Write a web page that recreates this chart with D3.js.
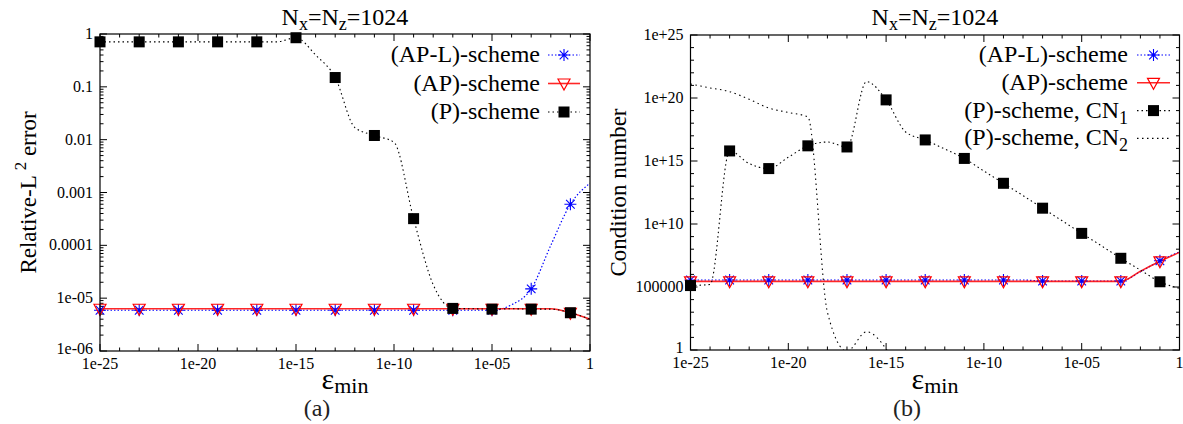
<!DOCTYPE html>
<html><head><meta charset="utf-8">
<script src="https://cdn.jsdelivr.net/npm/d3@7"></script>
<style>body{margin:0;background:#fff}svg{display:block}svg text{font-family:'Liberation Serif','DejaVu Serif',serif}</style>
</head><body><svg id="c" width="1183" height="424"></svg>
<script>
// ---------- data ----------
const eps = [1e-25,1e-24,1e-23,1e-22,1e-21,1e-20,1e-19,1e-18,1e-17,1e-16,1e-15,1e-14,1e-13,
             1e-12,1e-11,1e-10,1e-9,1e-8,1e-7,1e-6,1e-5,1e-4,1e-3,1e-2,1e-1,1];
// panel (a): relative L2 error
const errAPL = [5.9e-6,5.9e-6,5.9e-6,5.9e-6,5.9e-6,5.9e-6,5.9e-6,5.9e-6,5.9e-6,5.9e-6,5.9e-6,5.9e-6,5.9e-6,
                5.9e-6,5.9e-6,5.9e-6,5.9e-6,5.9e-6,5.9e-6,5.9e-6,5.9e-6,7.5e-6,1.5e-5,1.0e-4,6.0e-4,1.5e-3];
const errAP  = [6.3e-6,6.3e-6,6.3e-6,6.3e-6,6.3e-6,6.3e-6,6.3e-6,6.3e-6,6.3e-6,6.3e-6,6.3e-6,6.3e-6,6.3e-6,
                6.3e-6,6.3e-6,6.3e-6,6.3e-6,6.3e-6,6.3e-6,6.3e-6,6.3e-6,6.3e-6,6.3e-6,6.3e-6,5.3e-6,4.0e-6];
const errP   = [0.71,0.71,0.71,0.71,0.71,0.71,0.71,0.71,0.71,0.71,0.85,0.40,0.15,
                0.017,0.012,0.0089,3.2e-4,1.8e-5,6.4e-6,6.3e-6,6.2e-6,6.3e-6,6.2e-6,6.2e-6,5.3e-6,4.0e-6];
// panel (b): condition numbers
const cnAPL  = [3.6e5,3.6e5,3.6e5,3.6e5,3.6e5,3.6e5,3.6e5,3.6e5,3.6e5,3.6e5,3.6e5,3.6e5,3.6e5,
                3.6e5,3.6e5,3.6e5,3.6e5,3.6e5,3.0e5,3.0e5,3.0e5,3.0e5,3.0e5,1.6e6,1.2e7,6.3e7];
const cnAP   = [2.8e5,2.8e5,2.8e5,2.8e5,2.8e5,2.8e5,2.8e5,2.8e5,2.8e5,2.8e5,2.8e5,2.8e5,2.8e5,
                2.8e5,2.8e5,2.8e5,2.8e5,2.8e5,2.8e5,2.8e5,2.8e5,2.8e5,2.8e5,1.8e6,1.1e7,5.6e7];
const cn1P   = [1.3e5,1.6e5,6.3e15,6.3e14,2.5e14,2.0e15,1.6e16,3.2e16,1.3e16,2.0e21,7.1e19,2.0e17,4.7e16,
                8.9e15,1.6e15,1.6e14,1.7e13,1.8e12,1.8e11,1.8e10,1.8e9,1.9e8,1.9e7,2.2e6,2.6e5,7.9e4];
const cn2P   = [1.3e21,6.3e20,3.2e20,7.9e19,1.6e19,7.1e18,3.2e18,1.0e3,0.8,28,1.2,1e-3,null,
                null,null,null,null,null,null,null,null,null,null,null,null,null];
// ticks
const xTickVals = [1e-25,1e-20,1e-15,1e-10,1e-5,1];
const xTickLabels = ["1e-25","1e-20","1e-15","1e-10","1e-05","1"];
const yTickValsA = [1e-6,1e-5,1e-4,1e-3,1e-2,1e-1,1];
const yTickLabelsA = ["1e-06","1e-05","0.0001","0.001","0.01","0.1","1"];
const yTickValsB = [1,1e5,1e10,1e15,1e20,1e25];
const yTickLabelsB = ["1","100000","1e+10","1e+15","1e+20","1e+25"];

// ---------- drawing ----------
const svg = d3.select('#c');

function marker(g, type, cx, cy, color) {
  if (type === 'star') {
    g.append('path').attr('transform', `translate(${cx},${cy})`)
      .attr('d','M-6,0H6M0,-6V6M-4.3,-4.3L4.3,4.3M-4.3,4.3L4.3,-4.3')
      .attr('stroke', color).attr('stroke-width',1.1).attr('fill','none');
  } else if (type === 'tri') {
    g.append('path').attr('transform', `translate(${cx},${cy})`)
      .attr('d','M-6,-4.5L6,-4.5L0,6.5Z')
      .attr('stroke', color).attr('stroke-width',1.2).attr('fill','none');
  } else if (type === 'sq') {
    g.append('rect').attr('x',cx-5.5).attr('y',cy-5.5).attr('width',11).attr('height',11).attr('fill',color);
  }
}

function drawPanel(p) {
  const x = d3.scaleLog().domain([eps[0], eps[eps.length-1]]).range([p.x0, p.x1]);
  const y = d3.scaleLog().domain(p.yDomain).range([p.y1, p.y0]);
  const g = svg.append('g');
  const clipId = 'clip' + p.id;
  svg.append('defs').append('clipPath').attr('id', clipId).append('rect')
    .attr('x', p.x0).attr('y', p.y0).attr('width', p.x1 - p.x0).attr('height', p.y1 - p.y0);

  // ticks (inward on all sides)
  const tk = g.append('g').attr('stroke','#000').attr('stroke-width',1);
  const xMinor = eps.filter(v => !xTickVals.includes(v));
  xTickVals.forEach(v => {
    const px = x(v);
    tk.append('line').attr('x1',px).attr('x2',px).attr('y1',p.y1).attr('y2',p.y1-7);
    tk.append('line').attr('x1',px).attr('x2',px).attr('y1',p.y0).attr('y2',p.y0+7);
  });
  xMinor.forEach(v => {
    const px = x(v);
    tk.append('line').attr('x1',px).attr('x2',px).attr('y1',p.y1).attr('y2',p.y1-3.5);
    tk.append('line').attr('x1',px).attr('x2',px).attr('y1',p.y0).attr('y2',p.y0+3.5);
  });
  p.yTickVals.forEach(v => {
    const py = y(v);
    tk.append('line').attr('x1',p.x0).attr('x2',p.x0+7).attr('y1',py).attr('y2',py);
    tk.append('line').attr('x1',p.x1).attr('x2',p.x1-7).attr('y1',py).attr('y2',py);
  });
  p.yMinor.forEach(v => {
    const py = y(v);
    tk.append('line').attr('x1',p.x0).attr('x2',p.x0+3.5).attr('y1',py).attr('y2',py);
    tk.append('line').attr('x1',p.x1).attr('x2',p.x1-3.5).attr('y1',py).attr('y2',py);
  });

  // tick labels
  xTickVals.forEach((v,i) => {
    g.append('text').attr('x', x(v)).attr('y', p.y1 + 18).attr('text-anchor','middle')
      .attr('font-size', 16).text(xTickLabels[i]);
  });
  p.yTickVals.forEach((v,i) => {
    g.append('text').attr('x', p.x0 - 7).attr('y', y(v) + (i === 0 ? 3 : 5)).attr('text-anchor','end')
      .attr('font-size', 16).text(p.yTickLabels[i]);
  });

  // series
  const plot = g.append('g').attr('clip-path', `url(#${clipId})`);
  p.series.forEach(s => {
    const pts = eps.map((e,i) => [e, s.values[i]]);
    const line = d3.line().defined(d => d[1] != null)
      .x(d => x(d[0])).y(d => y(d[1])).curve(d3.curveMonotoneX);
    plot.append('path').attr('d', line(pts)).attr('fill','none')
      .attr('stroke', s.color).attr('stroke-width', s.width)
      .attr('stroke-dasharray', s.dash || null).attr('stroke-opacity', s.opacity || 1);
  });
  const mk = g.append('g');
  p.series.forEach(s => {
    if (!s.marker) return;
    eps.forEach((e,i) => {
      if (i % 2 === 0 && s.values[i] != null) marker(mk, s.marker, x(e), y(s.values[i]), s.color);
    });
  });

  // frame
  g.append('rect').attr('x',p.x0).attr('y',p.y0).attr('width',p.x1-p.x0).attr('height',p.y1-p.y0)
    .attr('fill','none').attr('stroke','#000').attr('stroke-width',1.2);

  // legend
  p.series.forEach((s,i) => {
    const ly = p.legY + i * p.legDy;
    const t = g.append('text').attr('x', p.legTextX).attr('y', ly + 7).attr('text-anchor','end')
      .attr('font-size', 24);
    t.append('tspan').text(s.label);
    if (s.sub) {
      t.append('tspan').attr('dy', 6).attr('font-size', 18).text(s.sub);
    }
    g.append('line').attr('x1', p.legX0).attr('x2', p.legX1).attr('y1', ly).attr('y2', ly)
      .attr('stroke', s.color).attr('stroke-width', s.width)
      .attr('stroke-dasharray', s.dash || null).attr('stroke-opacity', s.opacity || 1);
    if (s.marker) marker(g, s.marker, (p.legX0 + p.legX1) / 2, ly, s.color);
  });

  // title
  const cx = (p.x0 + p.x1) / 2;
  const tt = g.append('text').attr('x', cx).attr('y', 25).attr('text-anchor','middle').attr('font-size', 24);
  tt.append('tspan').text('N');
  tt.append('tspan').attr('dy', 5).attr('font-size', 18).text('x');
  tt.append('tspan').attr('dy', -5).text('=N');
  tt.append('tspan').attr('dy', 5).attr('font-size', 18).text('z');
  tt.append('tspan').attr('dy', -5).text('=1024');

  // x-axis title
  const xt = g.append('text').attr('x', cx).attr('y', 389).attr('text-anchor','middle').attr('font-size', 30);
  xt.append('tspan').text('ε');
  xt.append('tspan').attr('dy', 4).attr('font-size', 22).text('min');

  // y-axis title
  const yt = g.append('text').attr('transform', `translate(${p.yTitleX},${(p.y0 + p.y1) / 2}) rotate(-90)`)
    .attr('text-anchor','middle').attr('font-size', 23);
  p.yTitle.forEach(part => {
    const ts = yt.append('tspan').text(part.t);
    if (part.sup) ts.attr('dy', -10).attr('font-size', 17);
    if (part.after) ts.attr('dy', 10);
  });

  // panel label
  g.append('text').attr('x', cx - 28).attr('y', 416).attr('text-anchor','middle')
    .attr('font-size', 24).attr('fill','#222').text(p.panelLabel);
}

const minorA = [];
[1e-6,1e-5,1e-4,1e-3,1e-2,1e-1].forEach(b => { for (let k = 2; k <= 9; k++) minorA.push(k * b); });
const minorB = eps.map(e => 1 / e).filter(v => !yTickValsB.some(t => Math.abs(Math.log10(t) - Math.log10(v)) < 1e-6));

drawPanel({
  id: 'a', x0: 100, x1: 590, y0: 34, y1: 351, yDomain: [1e-6, 1],
  yTickVals: yTickValsA, yTickLabels: yTickLabelsA, yMinor: minorA,
  legY: 55, legDy: 28.5, legTextX: 540, legX0: 548, legX1: 580,
  yTitleX: 36, yTitle: [{t:'Relative-L '},{t:'2', sup:true},{t:' error', after:true}],
  panelLabel: '(a)',
  series: [
    {label:'(AP-L)-scheme', values: errAPL, color:'#0000ff', width:1.2, dash:'1.5,2', marker:'star'},
    {label:'(AP)-scheme', values: errAP, color:'#ff0000', width:1.6, opacity:0.85, marker:'tri'},
    {label:'(P)-scheme', values: errP, color:'#000000', width:1.1, dash:'1.5,3', marker:'sq'}
  ]
});

drawPanel({
  id: 'b', x0: 690.5, x1: 1179.5, y0: 35, y1: 350, yDomain: [1, 1e25],
  yTickVals: yTickValsB, yTickLabels: yTickLabelsB, yMinor: minorB,
  legY: 55, legDy: 27.8, legTextX: 1128, legX0: 1137, legX1: 1170,
  yTitleX: 626, yTitle: [{t:'Condition number'}],
  panelLabel: '(b)',
  series: [
    {label:'(AP-L)-scheme', values: cnAPL, color:'#0000ff', width:1.2, dash:'1.5,2', marker:'star'},
    {label:'(AP)-scheme', values: cnAP, color:'#ff0000', width:1.6, opacity:0.85, marker:'tri'},
    {label:'(P)-scheme, CN', sub:'1', values: cn1P, color:'#000000', width:1.1, dash:'1.5,3', marker:'sq'},
    {label:'(P)-scheme, CN', sub:'2', values: cn2P, color:'#000000', width:1.1, dash:'1.5,3.5'}
  ]
});
</script>
</body></html>
